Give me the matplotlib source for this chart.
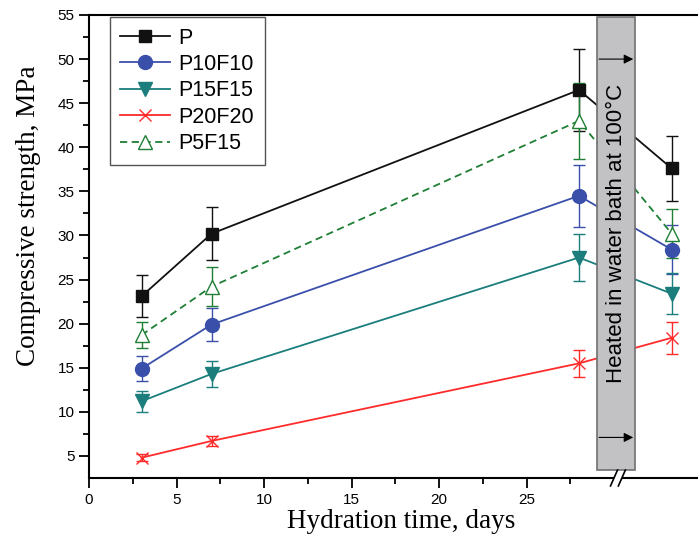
import matplotlib
matplotlib.use('Agg')
import matplotlib.pyplot as plt
from matplotlib.patches import Rectangle

# posizioni sull'asse x (l'ultimo punto sta dopo la rottura dell'asse)
giorni = [3, 7, 28, 33.3]

serie = ["P", "P10F10", "P15F15", "P20F20", "P5F15"]
P = [23.1, 30.2, 46.5, 37.6]
P_err = [2.4, 3.0, 4.7, 3.7]
P10F10 = [14.9, 19.9, 34.5, 28.4]
P10F10_err = [1.4, 1.9, 3.5, 2.8]
P15F15 = [11.2, 14.3, 27.5, 23.4]
P15F15_err = [1.2, 1.5, 2.7, 2.3]
P20F20 = [4.8, 6.7, 15.5, 18.4]
P20F20_err = [0.4, 0.6, 1.5, 1.8]
P5F15 = [18.7, 24.2, 43.0, 30.2]
P5F15_err = [1.5, 2.2, 4.3, 2.8]

valori = [P, P10F10, P15F15, P20F20, P5F15]
errori = [P_err, P10F10_err, P15F15_err, P20F20_err, P5F15_err]
colori = ["#111111", "#3A4FAA", "#1B7E7C", "#FF2B2B", "#1F7F35"]
marker = ["s", "o", "v", "x", "^"]
msize = [9, 10, 10, 9, 10]
stili = ["-", "-", "-", "-", (0, (4, 2.5))]

plt.rcParams['font.family'] = 'Liberation Sans'

fig = plt.figure(figsize=(6.98, 5.44), dpi=100)
ax = fig.add_axes([89 / 698, 1 - 478 / 544, 1 - 89 / 698, (478 - 15) / 544])

for i in range(len(serie)):
    c = colori[i]
    mfc = 'white' if serie[i] == "P5F15" else c
    ax.errorbar(giorni, valori[i], yerr=errori[i], fmt='none', ecolor=c,
                elinewidth=1.0, capsize=4, capthick=1.0, zorder=2)
    ax.plot(giorni, valori[i], linestyle=stili[i], color=c, lw=1.3,
            marker=marker[i], markersize=msize[i], markerfacecolor=mfc,
            markeredgecolor=c, markeredgewidth=1.0, label=serie[i], zorder=2.5)

ax.set_xlim(0, 34.8)
ax.set_ylim(2.5, 55)
ax.set_xticks([0, 5, 10, 15, 20, 25])
ax.set_xticks([2.5, 7.5, 12.5, 17.5, 22.5, 27.5], minor=True)
ax.set_yticks(range(5, 56, 5))
ax.set_yticks([7.5, 12.5, 17.5, 22.5, 27.5, 32.5, 37.5, 42.5, 47.5, 52.5], minor=True)
ax.tick_params(which='major', direction='out', length=7, width=1.3, labelsize=11)
ax.tick_params(which='minor', direction='out', length=4.5, width=1.3)
ax.spines['right'].set_visible(False)
for s in ['left', 'bottom', 'top']:
    ax.spines[s].set_linewidth(1.5)

ax.set_xlabel("Hydration time, days", family='Liberation Serif', fontsize=19.5)
ax.set_ylabel("Compressive strength, MPa", family='Liberation Serif', fontsize=19.5)
ax.xaxis.set_label_coords(0.512, -0.068)
ax.yaxis.set_label_coords(-0.078, 0.566)

# riquadro del riscaldamento
ax.add_patch(Rectangle((29.05, 3.4), 2.15, 51.4, facecolor='#C2C2C4',
                       edgecolor='#707070', lw=1.2, zorder=3))
for yy in [50.0, 7.1]:
    ax.annotate("", xy=(31.1, yy), xytext=(29.15, yy),
                arrowprops=dict(arrowstyle='-|>', color='black', lw=0.8,
                                mutation_scale=14, shrinkA=0, shrinkB=0),
                zorder=4)
ax.text(30.12, 30.2, "Heated in water bath at 100°C", rotation=90,
        ha='center', va='center', fontsize=16, zorder=4)

# rottura dell'asse x
ax.add_patch(Rectangle((30.0, 2.0), 0.45, 1.0, facecolor='white', edgecolor='none',
                       clip_on=False, zorder=5))
for xb in [30.0, 30.45]:
    ax.plot([xb - 0.2, xb + 0.2], [1.6, 3.4], color='black', lw=1.2,
            clip_on=False, zorder=6)

leg = ax.legend(loc='upper left', bbox_to_anchor=(0.034, 0.996), borderaxespad=0,
                fontsize=15.5, fancybox=False, edgecolor='#555555', framealpha=1,
                handlelength=2.3, handletextpad=0.4, labelspacing=0.25,
                borderpad=0.5)
leg.get_frame().set_linewidth(1.0)

fig.savefig('out.png', dpi=100)
